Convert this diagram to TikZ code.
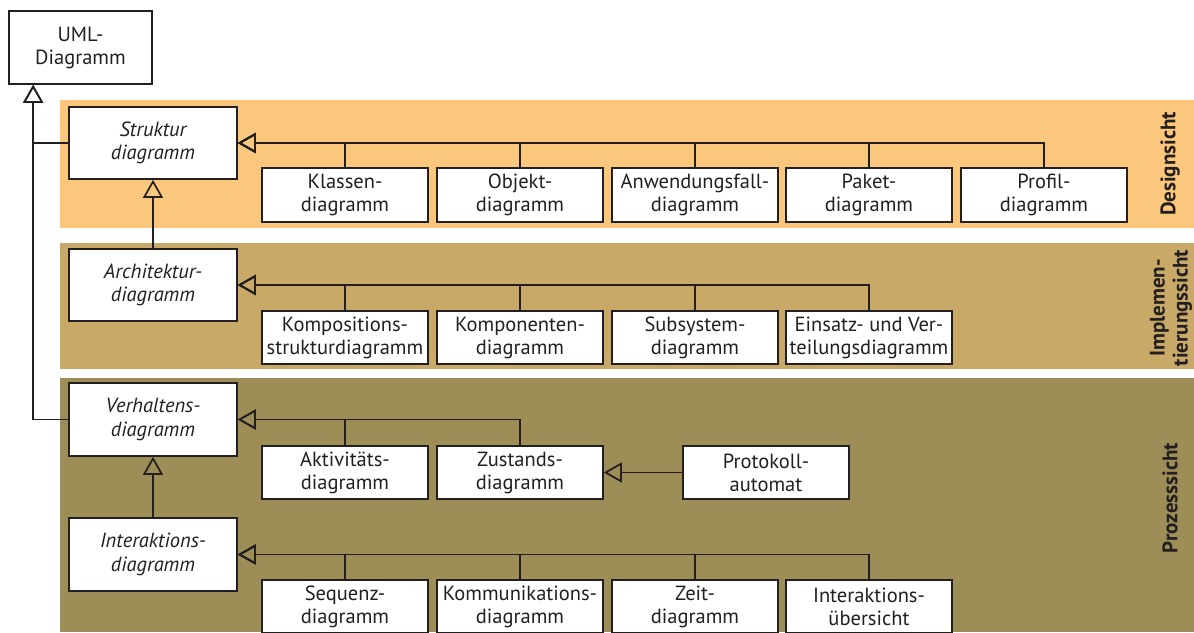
\documentclass[tikz,border=0pt]{standalone}
\usepackage{fontspec}
\setmainfont{PT Sans}
\usetikzlibrary{arrows.meta,calc}
\definecolor{linec}{HTML}{231F20}
\definecolor{designc}{HTML}{FAC77D}
\definecolor{implc}{HTML}{C9A968}
\definecolor{procc}{HTML}{9D8D56}
\begin{document}
\begin{tikzpicture}[x=1pt,y=-1pt,
  box/.style={draw=linec, fill=white, line width=1.7pt, inner sep=0pt, align=center,
    font=\fontsize{20.5}{23}\selectfont, text=linec},
  abstract/.style={box, minimum width=168pt, minimum height=72pt, font=\fontsize{20.5}{23.5}\selectfont\itshape},
  leaf/.style={box, minimum width=166pt, minimum height=53pt},
  gen/.style={draw=linec, line width=1.7pt, -{Triangle[open,length=18pt,width=20pt]}},
  viewlabel/.style={rotate=90, align=center, font=\fontsize{21}{23}\selectfont\bfseries, text=linec}]
\useasboundingbox (0,0) rectangle (1194,632);

% bands of the three views
\fill[designc] (60,100) rectangle (1194,228);
\fill[implc] (60,243) rectangle (1194,369);
\fill[procc] (60,378) rectangle (1194,632);

\node[viewlabel] (vd) at (1170,164) {Designsicht};
\node[viewlabel] (vi) at (1171,308) {Implemen-\\tierungssicht};
\node[viewlabel] (vp) at (1170,498) {Prozesssicht};

% root
\node[box, minimum width=143pt, minimum height=73pt] (uml) at (80.5,47.5) {UML-\\Diagramm};

% abstract diagram kinds
\node[abstract] (st) at (153,143) {Struktur\\diagramm};
\node[abstract] (ar) at (153,285) {Architektur-\\diagramm};
\node[abstract, minimum height=73pt] (vh) at (153,419.5) {Verhaltens-\\diagramm};
\node[abstract, minimum height=73pt] (ia) at (153,554.5) {Interaktions-\\diagramm};

% design view
\node[leaf, minimum height=54pt] (kl) at (345,195) {Klassen-\\diagramm};
\node[leaf, minimum height=54pt] (ob) at (520,195) {Objekt-\\diagramm};
\node[leaf, minimum height=54pt] (an) at (695,195) {Anwendungsfall-\\diagramm};
\node[leaf, minimum height=54pt] (pk) at (869,195) {Paket-\\diagramm};
\node[leaf, minimum height=54pt] (pr) at (1044,195) {Profil-\\diagramm};

% implementation view
\node[leaf] (ko) at (345,337.5) {Kompositions-\\strukturdiagramm};
\node[leaf] (km) at (520,337.5) {Komponenten-\\diagramm};
\node[leaf] (su) at (695,337.5) {Subsystem-\\diagramm};
\node[leaf] (ei) at (869,337.5) {Einsatz- und Ver-\\teilungsdiagramm};

% process view
\node[leaf] (ak) at (345,472.5) {Aktivitäts-\\diagramm};
\node[leaf] (zu) at (520,472.5) {Zustands-\\diagramm};
\node[leaf] (pa) at (766,472.5) {Protokoll-\\automat};

\node[leaf] (se) at (345,606.5) {Sequenz-\\diagramm};
\node[leaf] (kk) at (520,606.5) {Kommunikations-\\diagramm};
\node[leaf] (ze) at (695,606.5) {Zeit-\\diagramm};
\node[leaf] (iu) at (869,606.5) {Interaktions-\\übersicht};

% generalisations
\coordinate (umlfoot) at ($(uml.south west)+(25,0)$);
\draw[gen] (st.west) -| (umlfoot);
\draw[gen] (vh.west) -| (umlfoot);

\foreach \c in {kl,ob,an,pk,pr} \draw[gen] (\c.north) |- (st.east);
\draw[gen] (ar.north) -- (st.south);
\foreach \c in {ko,km,su,ei} \draw[gen] (\c.north) |- (ar.east);
\foreach \c in {ak,zu} \draw[gen] (\c.north) |- (vh.east);
\draw[gen] (pa.west) -- (zu.east);
\draw[gen] (ia.north) -- (vh.south);
\foreach \c in {se,kk,ze,iu} \draw[gen] (\c.north) |- (ia.east);
\end{tikzpicture}
\end{document}
